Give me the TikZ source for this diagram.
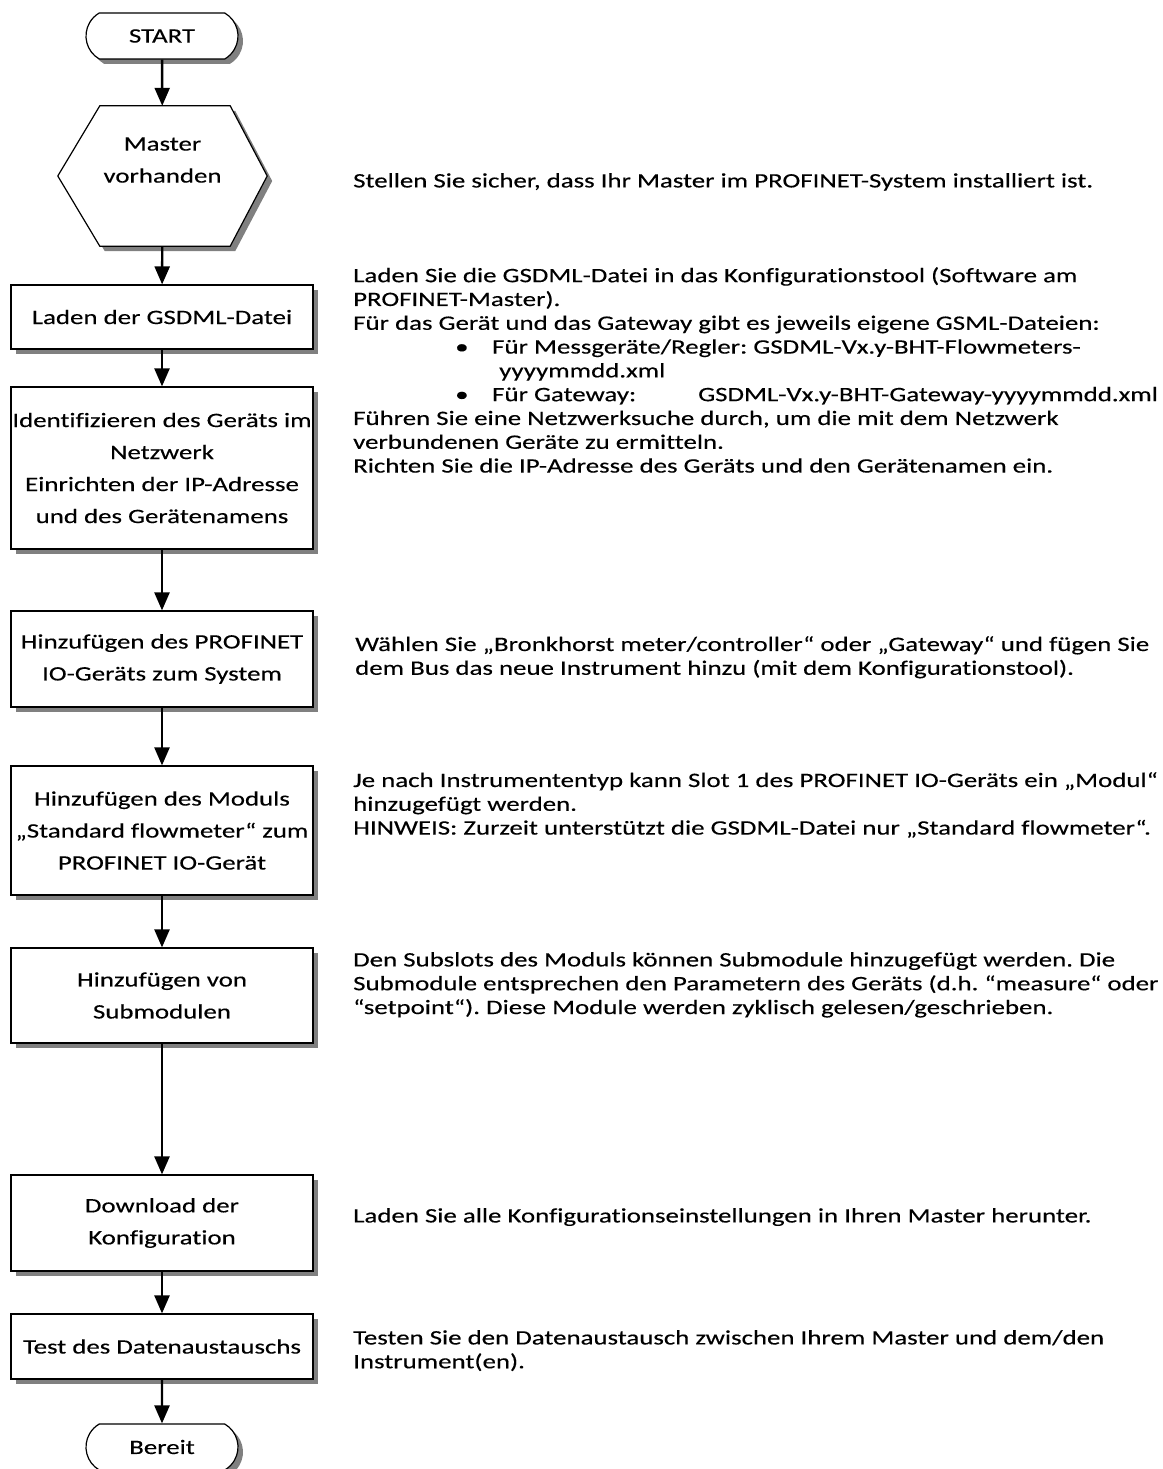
\documentclass[tikz,border=0pt]{standalone}
\usepackage{fontspec}
\setmainfont{Carlito}[FakeStretch=1.31, FakeBold=0.3, Ligatures=NoCommon]
\usepackage{xcolor}
\usepackage{tikz}
\usetikzlibrary{arrows.meta, positioning, shapes.misc, shadows, backgrounds}
\definecolor{shade}{RGB}{128,128,128}
\frenchspacing

\newcommand{\boxfont}{\fontsize{20.5pt}{32pt}\selectfont}
\newcommand{\notefont}{\fontsize{20.5pt}{23.8pt}\selectfont}

\tikzset{
    flowshadow/.style={drop shadow={shadow xshift=5pt, shadow yshift=-5pt, fill=shade, opacity=1}},
    stepbox/.style={draw, line width=1.2pt, fill=white, flowshadow, minimum width=302pt, inner sep=0pt, align=center, font=\boxfont},
    termbox/.style={draw, line width=1.2pt, fill=white, flowshadow, rounded rectangle, rounded rectangle arc length=120, minimum width=152pt, minimum height=46pt, inner sep=0pt, font=\boxfont},
    hexnode/.style={minimum width=209pt, minimum height=140pt, inner sep=0pt, align=center, font=\boxfont},
    flowarrow/.style={line width=2.4pt, -{Triangle[length=18pt, width=15pt]}},
    note/.style={anchor=north west, inner sep=0pt, align=left, font=\notefont}
}

\begin{document}
\begin{tikzpicture}[x=1pt, y=-1pt]
    \useasboundingbox (0,0) rectangle (1162,1469);

    \node[termbox] (start) at (162,36) {START};
    \node[hexnode] (master) at (162.5,176) {Master\\vorhanden\\\phantom{M}};
    \begin{scope}[on background layer]
      \draw[line width=1.2pt, fill=white, flowshadow]
        ([xshift=42pt]master.north west) -- ([xshift=-37pt]master.north east) -- (master.east)
        -- ([xshift=-37pt]master.south east) -- ([xshift=42pt]master.south west) -- (master.west) -- cycle;
    \end{scope}
    \node[stepbox, minimum height=64pt] (laden) at (162,317) {Laden der GSDML-Datei};
    \node[stepbox, minimum height=162pt] (ident) at (162,468) {Identifizieren des Geräts im\\Netzwerk\\Einrichten der IP-Adresse\\und des Gerätenamens};
    \node[stepbox, minimum height=96pt] (iodev) at (162,659) {Hinzufügen des PROFINET\\IO-Geräts zum System};
    \node[stepbox, minimum height=129pt] (modul) at (162,830.5) {Hinzufügen des Moduls\\„Standard flowmeter“ zum\\PROFINET IO-Gerät};
    \node[stepbox, minimum height=95pt] (submod) at (162,995.5) {Hinzufügen von\\Submodulen};
    \node[stepbox, minimum height=96pt] (download) at (162,1223) {Download der\\Konfiguration};
    \node[stepbox, minimum height=65pt] (test) at (162,1346.5) {Test des Datenaustauschs};
    \node[termbox] (ready) at (162,1447) {Bereit};

    \draw[flowarrow] (start) -- (master);
    \draw[flowarrow] (master) -- (laden);
    \draw[flowarrow] (laden) -- (ident);
    \draw[flowarrow] (ident) -- (iodev);
    \draw[flowarrow] (iodev) -- (modul);
    \draw[flowarrow] (modul) -- (submod);
    \draw[flowarrow] (submod) -- (download);
    \draw[flowarrow] (download) -- (test);
    \draw[flowarrow] (test) -- (ready);

    \node[note] (masternote) at (353,173) {Stellen Sie sicher, dass Ihr Master im PROFINET-System installiert ist.};
    \node[note] (gsdmlnote) at (353,267) {Laden Sie die GSDML-Datei in das Konfigurationstool (Software am\\
      PROFINET-Master).\\
      Für das Gerät und das Gateway gibt es jeweils eigene GSML-Dateien:\\
      \hspace*{102pt}\makebox[37pt][l]{•}Für Messgeräte/Regler: GSDML-Vx.y-BHT-Flowmeters-\\
      \hspace*{146pt}yyyymmdd.xml\\
      \hspace*{102pt}\makebox[37pt][l]{•}\makebox[206pt][l]{Für Gateway:}GSDML-Vx.y-BHT-Gateway-yyyymmdd.xml\\
      Führen Sie eine Netzwerksuche durch, um die mit dem Netzwerk\\
      verbundenen Geräte zu ermitteln.\\
      Richten Sie die IP-Adresse des Geräts und den Gerätenamen ein.};
    \node[note] (ionote) at (355,636) {Wählen Sie „Bronkhorst meter/controller“ oder „Gateway“ und fügen Sie\\
      dem Bus das neue Instrument hinzu (mit dem Konfigurationstool).};
    \node[note] (modulnote) at (353,772) {Je nach Instrumententyp kann Slot 1 des PROFINET IO-Geräts ein „Modul“\\
      hinzugefügt werden.\\
      HINWEIS: Zurzeit unterstützt die GSDML-Datei nur „Standard flowmeter“.};
    \node[note] (subnote) at (353,952) {Den Subslots des Moduls können Submodule hinzugefügt werden. Die\\
      Submodule entsprechen den Parametern des Geräts (d.h. “measure“ oder\\
      “setpoint“). Diese Module werden zyklisch gelesen/geschrieben.};
    \node[note] (downloadnote) at (353,1208) {Laden Sie alle Konfigurationseinstellungen in Ihren Master herunter.};
    \node[note] (testnote) at (353,1330) {Testen Sie den Datenaustausch zwischen Ihrem Master und dem/den\\
      Instrument(en).};
\end{tikzpicture}
\end{document}
